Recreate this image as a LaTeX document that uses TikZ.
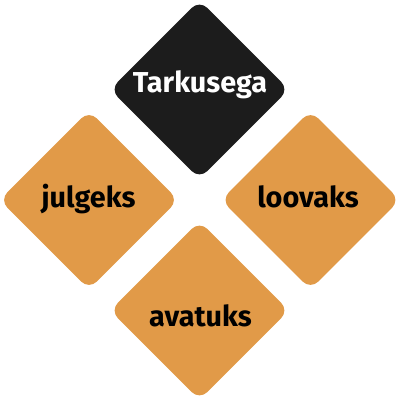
\documentclass[tikz,border=0pt]{standalone}
\usepackage{fontspec}
\setmainfont{Fira Sans}
\usetikzlibrary{shapes.geometric}
\definecolor{dk}{HTML}{1C1C1C}
\definecolor{og}{HTML}{E19A48}
\tikzset{
  dia/.style={diamond, aspect=1, minimum size=179pt, inner sep=0pt, rounded corners=11pt, draw=none},
  lbl/.style={anchor=base, font=\fontsize{28.8}{30}\selectfont\bfseries, inner sep=0pt}
}
\begin{document}
\begin{tikzpicture}[x=1pt,y=1pt]
\useasboundingbox (0,0) rectangle (400,400);
\node[dia, fill=dk] (top) at (199.5,310.5) {};
\node[dia, fill=og] (left) at (89,200) {};
\node[dia, fill=og] (right) at (310.5,200) {};
\node[dia, fill=og] (bottom) at (199.5,89.5) {};
\node[lbl, text=white] (ttop) at (200,307) {Tarkusega};
\node[lbl, text=black] (tleft) at (88.5,193) {julgeks};
\node[lbl, text=black] (tright) at (308,192) {loovaks};
\node[lbl, text=black] (tbottom) at (200.5,74) {avatuks};
\end{tikzpicture}
\end{document}
